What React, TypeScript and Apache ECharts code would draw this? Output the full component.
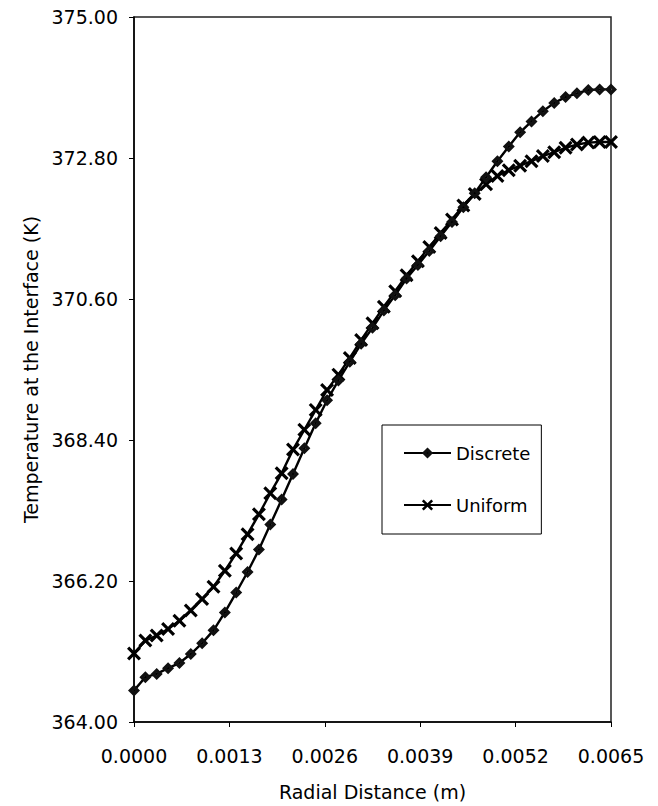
import React, { useEffect, useRef } from "react";
import * as echarts from "echarts";

const xStep = 0.0065 / 42;
const pointCount = 43;

const discreteValues = [
  364.49, 364.70, 364.75, 364.84, 364.92, 365.06, 365.23, 365.43, 365.71, 366.02,
  366.34, 366.69, 367.08, 367.47, 367.87, 368.27, 368.66, 369.02, 369.33, 369.62,
  369.90, 370.15, 370.42, 370.66, 370.92, 371.13, 371.35, 371.58, 371.80, 372.03,
  372.25, 372.50, 372.75, 372.98, 373.20, 373.37, 373.53, 373.66, 373.75, 373.81,
  373.86, 373.87, 373.87,
];

const uniformValues = [
  365.07, 365.27, 365.35, 365.45, 365.58, 365.74, 365.92, 366.11, 366.36, 366.63,
  366.93, 367.24, 367.57, 367.88, 368.25, 368.56, 368.87, 369.18, 369.42, 369.68,
  369.96, 370.22, 370.48, 370.72, 370.97, 371.19, 371.41, 371.63, 371.84, 372.06,
  372.24, 372.39, 372.52, 372.61, 372.68, 372.75, 372.83, 372.89, 372.96, 373.01,
  373.04, 373.05, 373.05,
];

const yTicks = [364, 366.2, 368.4, 370.6, 372.8, 375];
const xTicks = [0, 0.0013, 0.0026, 0.0039, 0.0052, 0.0065];

const seriesNames = ["Discrete", "Uniform"];

const d = 1.6;
const crossPath =
  `path://M0,${d} L${d},0 L5,${5 - d} L${10 - d},0 L10,${d} L${5 + d},5 L10,${10 - d} L${10 - d},10 L5,${5 + d} L${d},10 L0,${10 - d} L${5 - d},5 Z`;
const diamondPath =
  "path://M5,0 L10,5 L5,10 L0,5 Z M5,4 L4,5 L5,6 L6,5 Z";

export default function App() {
  const ref = useRef<HTMLDivElement>(null);

  useEffect(() => {
    if (!ref.current) return;
    const chart = echarts.init(ref.current, undefined, { renderer: "svg" });
    const xs = Array.from({ length: pointCount }, (_, i) => i * xStep);
    const font = "DejaVu Sans, Verdana, sans-serif";
    chart.setOption({
      animation: false,
      backgroundColor: "#fff",
      textStyle: { fontFamily: font },
      grid: {
        left: 134,
        right: 47,
        top: 17,
        bottom: 81,
        show: true,
        borderColor: "#222",
        borderWidth: 1.5,
        backgroundColor: "transparent",
      },
      legend: {
        orient: "vertical",
        left: 382,
        top: 425,
        data: seriesNames,
        borderColor: "#000",
        borderWidth: 1,
        backgroundColor: "#fff",
        padding: [19, 11, 20, 21],
        itemGap: 34,
        itemWidth: 47,
        itemHeight: 14,
        textStyle: { fontSize: 18, color: "#000", fontFamily: font },
      },
      xAxis: {
        type: "value",
        min: 0,
        max: 0.0065,
        interval: 0.0013,
        name: "Radial Distance (m)",
        nameLocation: "middle",
        nameGap: 60,
        nameTextStyle: { fontSize: 19, color: "#000", fontFamily: font },
        axisLine: { show: true, lineStyle: { color: "#000", width: 1.5 } },
        axisTick: { show: true, inside: false, length: 5, lineStyle: { color: "#000" } },
        axisLabel: {
          show: true,
          fontSize: 19,
          color: "#000",
          margin: 24,
          formatter: (v: number) => v.toFixed(4),
          customValues: xTicks,
        },
        splitLine: { show: false },
      },
      yAxis: {
        type: "value",
        min: 364,
        max: 375,
        name: "Temperature at the Interface (K)",
        nameLocation: "middle",
        nameGap: 93,
        nameTextStyle: { fontSize: 19, color: "#000", fontFamily: font },
        axisLine: { show: true, lineStyle: { color: "#000", width: 1.5 } },
        axisTick: {
          show: true,
          inside: false,
          length: 5,
          lineStyle: { color: "#000" },
          customValues: yTicks,
        },
        axisLabel: {
          show: true,
          fontSize: 19,
          color: "#000",
          margin: 16,
          formatter: (v: number) => v.toFixed(2),
          customValues: yTicks,
        },
        splitLine: { show: false },
      },
      series: [
        {
          name: seriesNames[0],
          type: "line",
          data: xs.map((x, i) => [x, discreteValues[i]]),
          symbol: diamondPath,
          symbolSize: 12,
          showAllSymbol: true,
          lineStyle: { color: "#000", width: 2.4 },
          itemStyle: { color: "#111", borderWidth: 0 },
          z: 3,
        },
        {
          name: seriesNames[1],
          type: "line",
          data: xs.map((x, i) => [x, uniformValues[i]]),
          symbol: crossPath,
          symbolSize: 14,
          showAllSymbol: true,
          lineStyle: { color: "#000", width: 2.4 },
          itemStyle: { color: "#000", borderWidth: 0 },
          z: 2,
        },
      ],
    });
    return () => chart.dispose();
  }, []);

  return (
    <div
      ref={ref}
      style={{ position: "absolute", left: 0, top: 0, width: 658, height: 806, background: "#fff" }}
    />
  );
}
